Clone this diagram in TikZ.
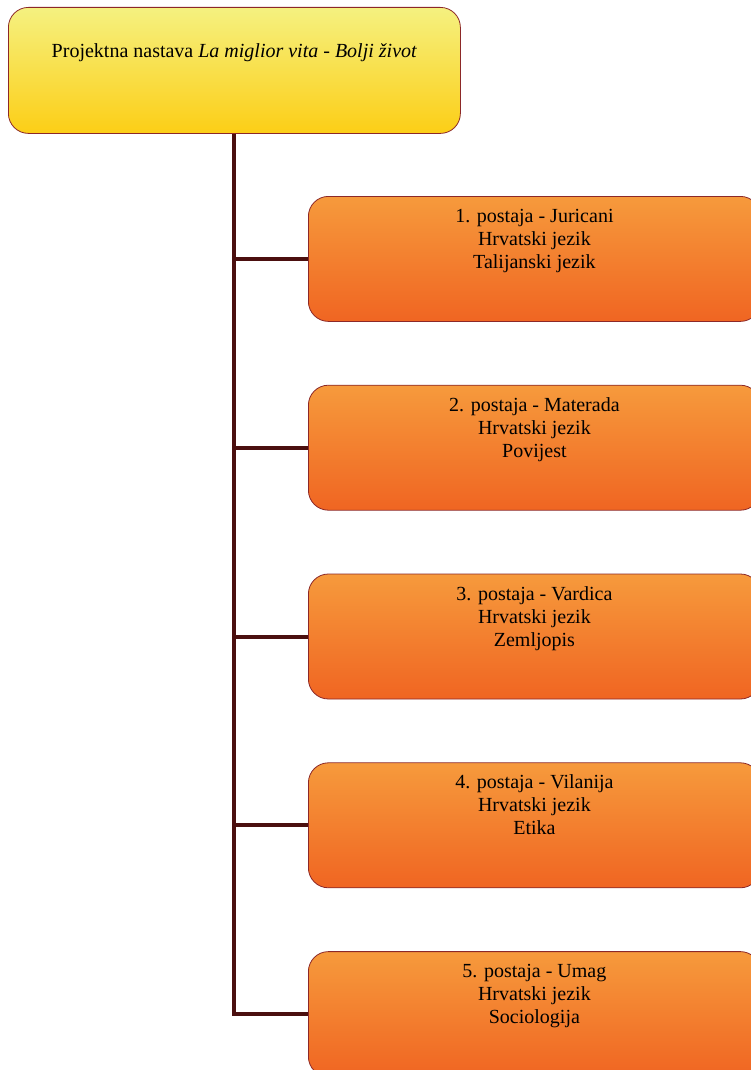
\documentclass[tikz,border=0pt]{standalone}
\usepackage{fontspec}
\setmainfont{Liberation Serif}
\usetikzlibrary{positioning}
\definecolor{edgered}{RGB}{140, 40, 40}
\definecolor{stemdark}{RGB}{75, 15, 15}
\definecolor{lemontop}{RGB}{245, 241, 128}
\definecolor{lemonbot}{RGB}{252, 206, 22}
\definecolor{orangetop}{RGB}{246, 154, 60}
\definecolor{orangebot}{RGB}{240, 101, 34}

\begin{document}
\begin{tikzpicture}[
  x=1pt, y=1pt,
  node distance=63pt,
  box/.style={draw=edgered, line width=0.8pt, rounded corners=20pt,
    minimum width=452pt, inner sep=0pt, align=center,
    font=\fontsize{20}{23}\selectfont},
  root/.style={box, top color=lemontop, bottom color=lemonbot,
    text height=50pt, text depth=76pt},
  station/.style={box, top color=orangetop, bottom color=orangebot,
    text height=72pt, text depth=53pt},
  conn/.style={draw=stemdark, line width=4pt}
]
\useasboundingbox (0,0) rectangle (751,-1070);
\node[root, anchor=north west] (project) at (8,-7)
  {Projektna nastava \textit{La miglior vita - Bolji život}};
\node[station, anchor=north west] (juricani) at (308,-196)
  {1. postaja - Juricani\\Hrvatski jezik\\Talijanski jezik};
\node[station, below=of juricani] (materada)
  {2. postaja - Materada\\Hrvatski jezik\\Povijest};
\node[station, below=of materada] (vardica)
  {3. postaja - Vardica\\Hrvatski jezik\\Zemljopis};
\node[station, below=of vardica] (vilanija)
  {4. postaja - Vilanija\\Hrvatski jezik\\Etika};
\node[station, below=of vilanija] (umag)
  {5. postaja - Umag\\Hrvatski jezik\\Sociologija};

\draw[conn] (project.south) |- (umag.west);
\draw[conn] (project.south |- juricani.west) -- (juricani.west);
\draw[conn] (project.south |- materada.west) -- (materada.west);
\draw[conn] (project.south |- vardica.west) -- (vardica.west);
\draw[conn] (project.south |- vilanija.west) -- (vilanija.west);
\end{tikzpicture}
\end{document}
